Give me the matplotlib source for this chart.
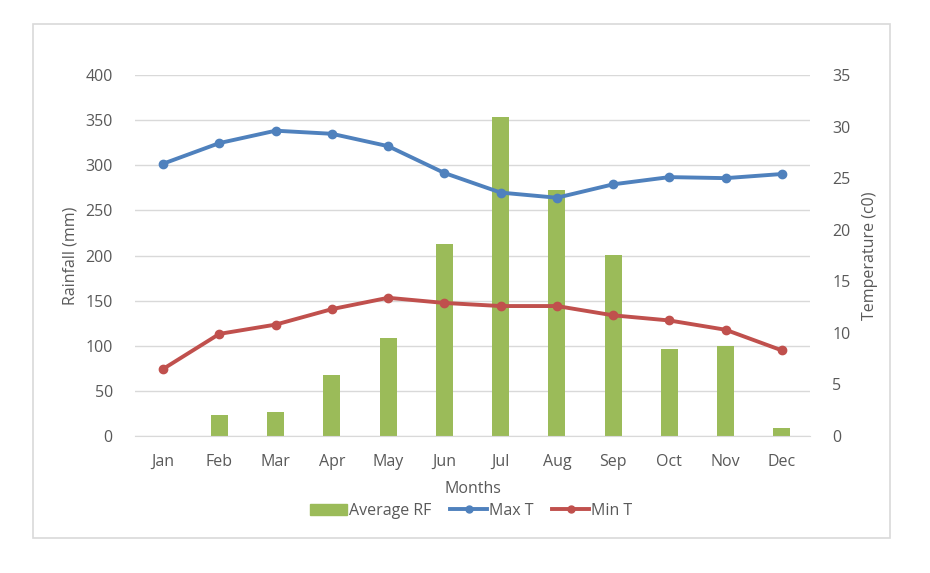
import numpy as np
import matplotlib.pyplot as plt
from matplotlib.patches import Rectangle
from matplotlib.lines import Line2D

months = ['Jan', 'Feb', 'Mar', 'Apr', 'May', 'Jun', 'Jul', 'Aug', 'Sep', 'Oct', 'Nov', 'Dec']
avg_rf = [0, 23, 27, 68, 109, 213, 353, 273, 201, 96, 100, 9]
max_t = [26.4, 28.4, 29.6, 29.3, 28.1, 25.5, 23.6, 23.1, 24.4, 25.1, 25.0, 25.4]
min_t = [6.5, 9.9, 10.8, 12.3, 13.4, 12.9, 12.6, 12.6, 11.7, 11.2, 10.3, 8.3]

green = '#9BBB59'
blue = '#4F81BD'
red = '#C0504D'
txt = '#595959'
grid = '#D9D9D9'
fs = 11.5

plt.rcParams['font.family'] = ['Open Sans', 'DejaVu Sans']

fig = plt.figure(figsize=(9.3, 5.73), dpi=100)
W, H = 930, 573

# outer chart border
fig.patches.append(Rectangle((32.5 / W, 1 - 538 / H), (890 - 32.5) / W, (538 - 23.5) / H,
                             transform=fig.transFigure, fill=False,
                             edgecolor='#D9D9D9', linewidth=1.2))

ax = fig.add_axes([135 / W, 1 - 436 / H, 675 / W, 361 / H])
ax2 = ax.twinx()

x = np.arange(len(months))
ax.bar(x, avg_rf, width=0.3, color=green, zorder=2)
ax.set_xlim(-0.5, 11.5)
ax.set_ylim(0, 400)
ax.set_yticks(range(0, 401, 50))
ax.yaxis.grid(True, color=grid, linewidth=1)
ax.set_axisbelow(True)
ax.set_xticks(x)
ax.set_xticklabels(months)

ax2.plot(x, max_t, color=blue, linewidth=2.8, marker='o', markersize=6, zorder=3)
ax2.plot(x, min_t, color=red, linewidth=2.8, marker='o', markersize=6, zorder=3)
ax2.set_ylim(0, 35)
ax2.set_yticks(range(0, 36, 5))

for a in (ax, ax2):
    for s in a.spines.values():
        s.set_visible(False)
    a.tick_params(length=0, labelsize=fs, colors=txt)
ax.spines['bottom'].set_visible(True)
ax.spines['bottom'].set_color(grid)
ax.tick_params(axis='y', pad=16)
ax.tick_params(axis='x', pad=13)
ax2.tick_params(axis='y', pad=16)

ax.set_ylabel('Rainfall (mm)', fontsize=fs, color=txt, labelpad=5)
ax2.set_ylabel('Temperature (c0)', fontsize=fs, color=txt, labelpad=8)
ax.set_xlabel('Months', fontsize=fs, color=txt, labelpad=8)

handles = [Rectangle((0, 0), 1, 1, color=green),
           Line2D([], [], color=blue, linewidth=2.8, marker='o', markersize=5),
           Line2D([], [], color=red, linewidth=2.8, marker='o', markersize=5)]
fig.legend(handles, ['Average RF', 'Max T', 'Min T'], loc='center',
           bbox_to_anchor=(471 / W, 1 - 511 / H), ncol=3, frameon=False,
           fontsize=fs, labelcolor=txt, handlelength=2.3, handletextpad=0.1,
           columnspacing=1.2)

fig.savefig('out.png', dpi=100)
